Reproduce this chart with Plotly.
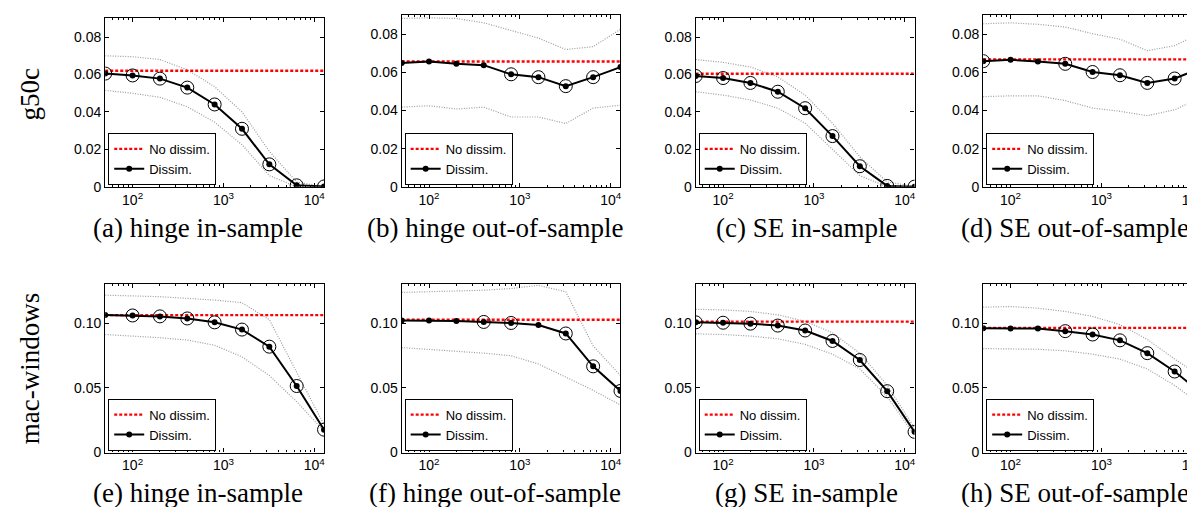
import math
import plotly.graph_objects as go

W, H = 1195, 507

# x values shared by all panels (number of samples)
sample_sizes = [50, 100, 200, 400, 800, 1600, 3200, 6400, 12800]

panel_titles = ["(a) hinge in-sample", "(b) hinge out-of-sample",
                "(c) SE in-sample", "(d) SE out-of-sample",
                "(e) hinge in-sample", "(f) hinge out-of-sample",
                "(g) SE in-sample", "(h) SE out-of-sample"]
row_names = ["g50c", "mac-windows"]

x_tick_vals = [100, 1000, 10000]
x_tick_text = ["10<sup>2</sup>", "10<sup>3</sup>", "10<sup>4</sup>"]
y_tick_vals_g50c = [0, 0.02, 0.04, 0.06, 0.08]
y_tick_text_g50c = ["0", "0.02", "0.04", "0.06", "0.08"]
y_tick_vals_mac = [0, 0.05, 0.10]
y_tick_text_mac = ["0", "0.05", "0.10"]

# --- g50c ---
a_baseline = 0.062
a_dissim = [0.0605, 0.0595, 0.0578, 0.0530, 0.0440, 0.0310, 0.0120, 0.0008, 0.0002]
a_upper = [0.0700, 0.0695, 0.0680, 0.0625, 0.0535, 0.0400, 0.0190, 0.0025, 0.0002]
a_lower = [0.0515, 0.0500, 0.0478, 0.0428, 0.0345, 0.0225, 0.0060, 0.0000, 0.0000]
a_circled = [1, 1, 1, 1, 1, 1, 1, 1, 1]

b_baseline = 0.0657
b_dissim = [0.0649, 0.0657, 0.0645, 0.0638, 0.0590, 0.0575, 0.0528, 0.0575, 0.0628]
b_upper = [0.0883, 0.0886, 0.0883, 0.0860, 0.0820, 0.0780, 0.0720, 0.0735, 0.0826]
b_lower = [0.0418, 0.0425, 0.0408, 0.0418, 0.0366, 0.0366, 0.0332, 0.0413, 0.0428]
b_circled = [0, 0, 0, 0, 1, 1, 1, 1, 0]

c_baseline = 0.0604
c_dissim = [0.0592, 0.0581, 0.0555, 0.0508, 0.0420, 0.0271, 0.0110, 0.0005, 0.0001]
c_upper = [0.0680, 0.0665, 0.0640, 0.0587, 0.0490, 0.0340, 0.0160, 0.0026, 0.0002]
c_lower = [0.0508, 0.0490, 0.0464, 0.0420, 0.0340, 0.0200, 0.0060, 0.0000, 0.0000]
c_circled = [1, 1, 1, 1, 1, 1, 1, 1, 1]

d_baseline = 0.0668
d_dissim = [0.0659, 0.0666, 0.0657, 0.0645, 0.0602, 0.0585, 0.0545, 0.0568, 0.0625]
d_upper = [0.0855, 0.0860, 0.0852, 0.0838, 0.0803, 0.0774, 0.0714, 0.0740, 0.0810]
d_lower = [0.0473, 0.0477, 0.0477, 0.0452, 0.0413, 0.0396, 0.0373, 0.0404, 0.0470]
d_circled = [1, 0, 0, 1, 1, 1, 1, 1, 1]

# --- mac-windows ---
e_baseline = 0.1062
e_dissim = [0.1062, 0.1059, 0.1052, 0.1036, 0.1006, 0.0950, 0.0818, 0.0514, 0.0177]
e_upper = [0.1216, 0.1211, 0.1204, 0.1191, 0.1178, 0.1158, 0.1026, 0.0621, 0.0215]
e_lower = [0.0912, 0.0900, 0.0887, 0.0869, 0.0829, 0.0740, 0.0595, 0.0393, 0.0165]
e_circled = [0, 1, 1, 1, 1, 1, 1, 1, 1]

f_baseline = 0.1026
f_dissim = [0.1021, 0.1021, 0.1016, 0.1009, 0.1001, 0.0986, 0.0920, 0.0666, 0.0476]
f_upper = [0.1237, 0.1242, 0.1249, 0.1254, 0.1267, 0.1292, 0.1242, 0.0824, 0.0595]
f_lower = [0.0811, 0.0798, 0.0786, 0.0768, 0.0748, 0.0684, 0.0583, 0.0481, 0.0367]
f_circled = [0, 0, 0, 1, 1, 0, 1, 1, 1]

g_baseline = 0.1011
g_dissim = [0.1006, 0.1003, 0.0996, 0.0981, 0.0943, 0.0862, 0.0715, 0.0474, 0.0160]
g_upper = [0.1107, 0.1102, 0.1090, 0.1064, 0.1014, 0.0925, 0.0768, 0.0519, 0.0190]
g_lower = [0.0917, 0.0912, 0.0900, 0.0879, 0.0836, 0.0760, 0.0646, 0.0431, 0.0134]
g_circled = [1, 1, 1, 1, 1, 1, 1, 1, 1]

h_baseline = 0.0963
h_dissim = [0.0960, 0.0958, 0.0958, 0.0938, 0.0912, 0.0867, 0.0768, 0.0626, 0.0456]
h_upper = [0.1123, 0.1128, 0.1115, 0.1090, 0.1052, 0.0988, 0.0874, 0.0722, 0.0583]
h_lower = [0.0803, 0.0803, 0.0798, 0.0786, 0.0760, 0.0722, 0.0646, 0.0519, 0.0362]
h_circled = [0, 0, 0, 1, 1, 1, 1, 1, 1]

panels = [
    (a_baseline, a_dissim, a_upper, a_lower, a_circled),
    (b_baseline, b_dissim, b_upper, b_lower, b_circled),
    (c_baseline, c_dissim, c_upper, c_lower, c_circled),
    (d_baseline, d_dissim, d_upper, d_lower, d_circled),
    (e_baseline, e_dissim, e_upper, e_lower, e_circled),
    (f_baseline, f_dissim, f_upper, f_lower, f_circled),
    (g_baseline, g_dissim, g_upper, g_lower, g_circled),
    (h_baseline, h_dissim, h_upper, h_lower, h_circled),
]

SANS = "Liberation Sans, Arial, sans-serif"
SERIF = "Liberation Serif, Times New Roman, serif"
GRAY = "#9c9c9c"

# layout in pixels (left edge of each column, top/bottom of each box)
col_left = [97.3, 394, 688.3, 976]
col_width = 219
caption_cx = [190, 487, 799, 1068]
box_tops = [[10.5, 7.3, 10.5, 7.3], [280.7, 280.7, 280.7, 280.7]]
box_bottom = [181.7, 451.7]
caption_cy = [224, 493]
y_max = [0.09, 0.13]

minor_ticks = [m * 10 ** e for e in (1, 2, 3, 4) for m in range(2, 10)]
minor_ticks = [v for v in minor_ticks if 50 < v < 12800]

fig = go.Figure()
layout = dict(width=W, height=H, margin=dict(l=0, r=0, t=0, b=0),
              paper_bgcolor="white", plot_bgcolor="white", annotations=[])

for i, (base, dis, up, lo, circ) in enumerate(panels):
    n = i + 1
    row, col = divmod(i, 4)
    sfx = "" if n == 1 else str(n)
    xa, ya, leg = "x" + sfx, "y" + sfx, "legend" + sfx

    for bound in (up, lo):
        fig.add_trace(go.Scatter(
            x=sample_sizes, y=bound, xaxis=xa, yaxis=ya, mode="lines",
            line=dict(color=GRAY, width=1.2, dash="1px,1.5px"),
            showlegend=False, hoverinfo="skip"))

    fig.add_trace(go.Scatter(
        x=[sample_sizes[0], sample_sizes[-1]], y=[base, base],
        xaxis=xa, yaxis=ya, mode="lines", name="No dissim.", legend=leg,
        line=dict(color="#ff0000", width=2.3, dash="3px,2px")))

    fig.add_trace(go.Scatter(
        x=sample_sizes, y=dis, xaxis=xa, yaxis=ya, mode="lines+markers",
        name="Dissim.", legend=leg,
        line=dict(color="black", width=2),
        marker=dict(color="black", size=6)))

    fig.add_trace(go.Scatter(
        x=[s for s, c in zip(sample_sizes, circ) if c],
        y=[v for v, c in zip(dis, circ) if c],
        xaxis=xa, yaxis=ya, mode="markers", showlegend=False,
        marker=dict(symbol="circle-open", size=13, color="black",
                    line=dict(width=1, color="black"))))

    x0 = col_left[col]
    x1 = min(x0 + col_width, W)
    top = box_tops[row][col]
    bot = box_bottom[row]

    layout["xaxis" + sfx] = dict(
        domain=[x0 / W, x1 / W], anchor=ya, type="log",
        range=[math.log10(sample_sizes[0]), math.log10(sample_sizes[-1])],
        tickvals=x_tick_vals, ticktext=x_tick_text,
        ticks="inside", ticklen=4, tickwidth=1, tickcolor="black",
        ticklabeloverflow="allow",
        minor=dict(tickvals=minor_ticks, ticks="inside", ticklen=2,
                   tickcolor="black", showgrid=False),
        showline=True, linecolor="black", linewidth=1.2, mirror="ticks",
        showgrid=False, zeroline=False,
        tickfont=dict(family=SANS, size=14, color="black"))
    layout["yaxis" + sfx] = dict(
        domain=[1 - bot / H, 1 - top / H], anchor=xa,
        range=[0, y_max[row]],
        tickvals=y_tick_vals_g50c if row == 0 else y_tick_vals_mac,
        ticktext=y_tick_text_g50c if row == 0 else y_tick_text_mac,
        ticks="inside", ticklen=4, tickwidth=1, tickcolor="black",
        showline=True, linecolor="black", linewidth=1.2, mirror="ticks",
        showgrid=False, zeroline=False,
        tickfont=dict(family=SANS, size=14, color="black"))
    layout[leg] = dict(
        x=(x0 + 3) / W, y=1 - (bot - 2) / H, xanchor="left", yanchor="bottom",
        bgcolor="white", bordercolor="black", borderwidth=1,
        font=dict(family=SANS, size=13, color="black"),
        itemwidth=30, tracegroupgap=0, traceorder="normal")

    layout["annotations"].append(dict(
        text=panel_titles[i], x=caption_cx[col] / W, y=1 - caption_cy[row] / H,
        xref="paper", yref="paper", xanchor="center", yanchor="middle",
        showarrow=False, font=dict(family=SERIF, size=27, color="black")))

for r, name in enumerate(row_names):
    cy = 87 if r == 0 else 366
    layout["annotations"].append(dict(
        text=name, x=22 / W, y=1 - cy / H, xref="paper", yref="paper",
        xanchor="center", yanchor="middle", textangle=-90, showarrow=False,
        font=dict(family=SERIF, size=27, color="black")))

fig.update_layout(layout)
fig.write_html("out.html")
